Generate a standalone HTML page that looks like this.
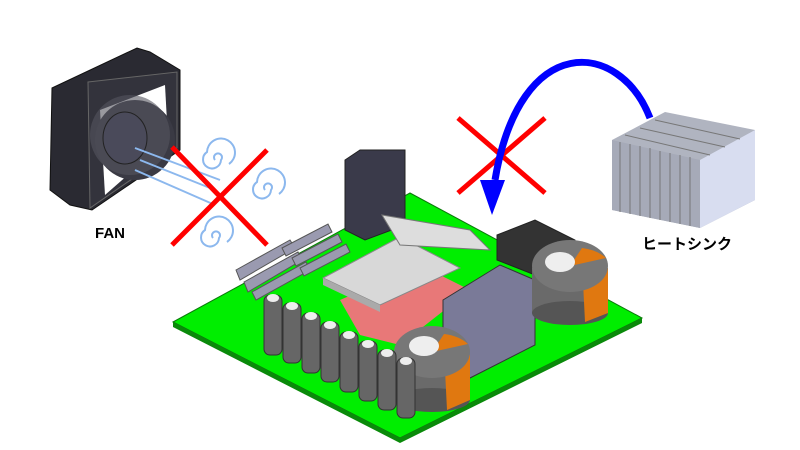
<!DOCTYPE html><html><head><style>body{margin:0;background:#fff}svg{display:block}</style></head><body>
<svg width="800" height="450" viewBox="0 0 800 450" xmlns="http://www.w3.org/2000/svg" font-family="Liberation Sans, Noto Sans CJK JP, sans-serif">
<!-- board -->
<polygon points="173,322 410,193 642,318 400,438" fill="#00ee00" stroke="#0a7a0a"/>
<polygon points="173,322 400,438 642,318 642,323 400,443 173,327" fill="#0a8a0a"/>
<!-- pink + chip -->
<polygon points="340,300 420,265 470,290 400,345 360,335" fill="#e87878"/>
<polygon points="323,278 400,237 460,268 380,305" fill="#d8d8d8" stroke="#888"/>
<polygon points="323,278 380,305 380,312 323,285" fill="#aaa"/>
<!-- fins left -->
<g fill="#9a9ab0" stroke="#555">
<polygon points="236,270 290,240 295,248 240,280"/><polygon points="244,282 298,252 302,260 248,292"/>
<polygon points="252,292 306,262 310,270 256,300"/><polygon points="282,248 328,224 332,232 286,256"/>
<polygon points="292,258 338,234 342,242 296,266"/><polygon points="300,268 346,244 350,252 304,276"/>
</g>
<!-- tall connector -->
<polygon points="345,160 360,150 405,150 405,225 365,240 345,230" fill="#3a3a4a" stroke="#222"/>
<polygon points="382,215 470,230 490,250 400,245" fill="#ddd" stroke="#777"/>
<!-- right black connector -->
<polygon points="497,235 535,220 575,240 575,265 535,275 497,260" fill="#333" stroke="#222"/>
<!-- right grey connector -->
<polygon points="443,300 500,265 535,280 535,345 470,378 443,360" fill="#7a7a98" stroke="#333"/>
<!-- capacitors -->
<g>
<rect x="532" y="268" width="76" height="45" fill="#6a6a6a"/>
<ellipse cx="570" cy="313" rx="38" ry="12" fill="#555"/>
<path d="M582,262 L608,268 L608,313 L585,322 Z" fill="#e07810"/>
<ellipse cx="570" cy="266" rx="38" ry="26" fill="#777"/>
<path d="M570,266 L582,248 A38,26 0 0 1 606,258 Z" fill="#e07810"/>
<ellipse cx="560" cy="262" rx="15" ry="10" fill="#eee"/>
<rect x="394" y="355" width="76" height="45" fill="#6a6a6a"/>
<ellipse cx="432" cy="400" rx="38" ry="12" fill="#555"/>
<path d="M444,350 L470,355 L470,400 L447,410 Z" fill="#e07810"/>
<ellipse cx="432" cy="352" rx="38" ry="26" fill="#777"/>
<path d="M432,352 L444,334 A38,26 0 0 1 468,344 Z" fill="#e07810"/>
<ellipse cx="424" cy="346" rx="15" ry="10" fill="#eee"/>
</g>
<g fill="#666" stroke="#333">
<rect x="264" y="295" width="18" height="60" rx="6"/><rect x="283" y="303" width="18" height="60" rx="6"/>
<rect x="302" y="313" width="18" height="60" rx="6"/><rect x="321" y="322" width="18" height="60" rx="6"/>
<rect x="340" y="332" width="18" height="60" rx="6"/><rect x="359" y="341" width="18" height="60" rx="6"/>
<rect x="378" y="350" width="18" height="60" rx="6"/><rect x="397" y="358" width="18" height="60" rx="6"/>
</g>
<g fill="#eee"><ellipse cx="273" cy="298" rx="6" ry="4"/><ellipse cx="292" cy="306" rx="6" ry="4"/><ellipse cx="311" cy="316" rx="6" ry="4"/><ellipse cx="330" cy="325" rx="6" ry="4"/><ellipse cx="349" cy="335" rx="6" ry="4"/><ellipse cx="368" cy="344" rx="6" ry="4"/><ellipse cx="387" cy="353" rx="6" ry="4"/><ellipse cx="406" cy="361" rx="6" ry="4"/></g>
<!-- fan -->
<polygon points="52,88 137,48 150,52 180,70 180,150 92,210 70,205 50,190" fill="#2a2a32" stroke="#111"/>
<polygon points="88,82 177,72 177,148 90,208" fill="#33333c" stroke="#666"/>
<path d="M100,110 L165,85 L168,140 L105,195 Z" fill="#fff"/>
<circle cx="135" cy="140" r="40" fill="#3a3a44"/>
<circle cx="130" cy="135" r="40" fill="#55555f" opacity="0.6"/>
<ellipse cx="125" cy="138" rx="22" ry="26" fill="#4a4a5a" stroke="#222"/>
<g stroke="#8cb8ee" fill="none" stroke-width="2">
<path d="M135,170 L215,205 M140,160 L215,190 M135,148 L220,180"/>
<path d="M215,160 a4,4 0 1 1 6,0 a9,9 0 1 1 -14,-8 a14,14 0 1 1 22,12"/>
<path d="M265,190 a4,4 0 1 1 6,0 a9,9 0 1 1 -14,-8 a14,14 0 1 1 22,12"/>
<path d="M213,238 a4,4 0 1 1 6,0 a9,9 0 1 1 -14,-8 a14,14 0 1 1 22,12"/>
</g>
<g stroke="#f00" stroke-width="5"><line x1="172" y1="147" x2="267" y2="245"/><line x1="172" y1="245" x2="267" y2="150"/>
<line x1="458" y1="118" x2="545" y2="193"/><line x1="458" y1="193" x2="545" y2="118"/></g>
<!-- blue arrow -->
<path d="M650,118 C620,40 520,30 495,180" stroke="#0000ff" stroke-width="7" fill="none"/>
<polygon points="480,180 505,180 492,215" fill="#0000ff"/>
<!-- heatsink -->
<polygon points="612,140 665,112 755,130 755,200 700,228 612,210" fill="#b0b4c0"/>
<polygon points="612,140 700,160 700,228 612,210" fill="#a6aab8"/>
<polygon points="700,160 755,130 755,200 700,228" fill="#d8ddf0"/>
<g stroke="#777" stroke-width="1"><path d="M620,142V212M630,144V214M640,146V216M650,148V218M660,151V220M670,153V222M680,155V224M690,157V226M625,135L710,155M640,128L725,147M655,120L740,139"/></g>
<text x="95" y="238" font-size="15" font-weight="bold">FAN</text>
<text x="642" y="249" font-size="15" font-weight="bold">ヒートシンク</text>
</svg></body></html>
